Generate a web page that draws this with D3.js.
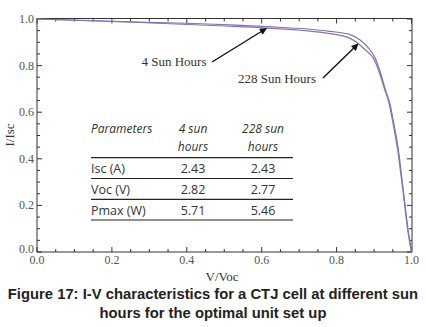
<!DOCTYPE html>
<html><head><meta charset="utf-8">
<script src="https://cdn.jsdelivr.net/npm/d3@7"></script>
<style>body{margin:0;background:#fff}svg{display:block}</style>
</head><body>
<svg id="c" width="426" height="327"></svg>
<script>
// Data
const v4 = [0, 0.275, 0.5, 0.603, 0.782, 0.836, 0.862, 0.885, 0.903, 0.916, 0.929, 0.943, 0.950, 0.965, 0.978, 0.991, 1.0];
const i4 = [1.0, 0.987, 0.976, 0.968, 0.947, 0.933, 0.911, 0.876, 0.833, 0.776, 0.704, 0.632, 0.575, 0.438, 0.266, 0.094, 0];
const v228 = [0, 0.275, 0.5, 0.603, 0.782, 0.836, 0.857, 0.876, 0.899, 0.913, 0.927, 0.941, 0.948, 0.963, 0.977, 0.990, 1.0];
const i228 = [1.0, 0.985, 0.970, 0.962, 0.937, 0.917, 0.896, 0.868, 0.83, 0.776, 0.704, 0.632, 0.575, 0.438, 0.266, 0.094, 0];
const xTicks = [0, 0.2, 0.4, 0.6, 0.8, 1.0];
const yTicks = [0, 0.2, 0.4, 0.6, 0.8, 1.0];
const tableHeader = ["Parameters", "4 sun|hours", "228 sun|hours"];
const tableRows = ["Isc (A)", "Voc (V)", "Pmax (W)"];
const col4 = ["2.43", "2.82", "5.71"];
const col228 = ["2.43", "2.77", "5.46"];
const seriesNames = ["4 Sun Hours", "228 Sun Hours"];

const svg = d3.select("#c");
const x = d3.scaleLinear().domain([0, 1]).range([37, 411.5]);
const y = d3.scaleLinear().domain([0, 1]).range([252, 19]);
const L = 37, R = 412, T = 18.5, B = 252;

// frame
svg.append("rect").attr("x", L).attr("y", T).attr("width", R - L).attr("height", B - T)
  .attr("fill", "none").attr("stroke", "#333").attr("stroke-width", 1);

const minor = d3.range(0, 1.0001, 0.05);
const isMajor = d => Math.abs(Math.round(d * 5) - d * 5) < 1e-6;
const tg = svg.append("g").attr("stroke", "#333").attr("stroke-width", 1);
minor.forEach(d => {
  const len = isMajor(d) ? 5 : 3;
  const px = x(d), py = y(d);
  tg.append("line").attr("x1", px).attr("x2", px).attr("y1", B).attr("y2", B - len);
  tg.append("line").attr("x1", px).attr("x2", px).attr("y1", T).attr("y2", T + len);
  tg.append("line").attr("y1", py).attr("y2", py).attr("x1", L).attr("x2", L + len);
  tg.append("line").attr("y1", py).attr("y2", py).attr("x1", R).attr("x2", R - len);
});

// tick labels
const fmt = d3.format(".1f");
svg.append("g").selectAll("text").data(xTicks).join("text")
  .attr("x", d => x(d)).attr("y", 263.5).attr("text-anchor", "middle")
  .attr("font-family", "Liberation Serif").attr("font-size", 12).attr("fill", "#555")
  .text(d => fmt(d));
svg.append("g").selectAll("text").data(yTicks).join("text")
  .attr("x", 34).attr("y", d => y(d) + (d === 0 ? 0.5 : 4)).attr("text-anchor", "end")
  .attr("font-family", "Liberation Serif").attr("font-size", 12).attr("fill", "#555")
  .text(d => fmt(d));

// axis titles
svg.append("text").attr("transform", "translate(14,135) rotate(-90)").attr("text-anchor", "middle")
  .attr("font-family", "Liberation Serif").attr("font-size", 13).attr("fill", "#333").text("I/Isc");
svg.append("text").attr("x", 222).attr("y", 281).attr("text-anchor", "middle")
  .attr("font-family", "Liberation Serif").attr("font-size", 13).attr("fill", "#333").text("V/Voc");

// curves
const line = d3.line().x(d => x(d[0])).y(d => y(d[1])).curve(d3.curveMonotoneX);
svg.append("path").datum(v228.map((v, k) => [v, i228[k]])).attr("d", line)
  .attr("fill", "none").attr("stroke", "#9a6d9e").attr("stroke-width", 1.2);
svg.append("path").datum(v4.map((v, k) => [v, i4[k]])).attr("d", line)
  .attr("fill", "none").attr("stroke", "#7878b6").attr("stroke-width", 1.2);

// annotations
const defs = svg.append("defs");
defs.append("marker").attr("id", "ah").attr("viewBox", "0 0 10 10").attr("refX", 9).attr("refY", 5)
  .attr("markerWidth", 9).attr("markerHeight", 7).attr("orient", "auto").attr("markerUnits", "userSpaceOnUse")
  .append("path").attr("d", "M0,0 L10,5 L0,10 Z").attr("fill", "#111");
svg.append("text").attr("x", 174).attr("y", 66).attr("text-anchor", "middle")
  .attr("font-family", "Liberation Serif").attr("font-size", 13).attr("fill", "#333").text(seriesNames[0]);
svg.append("line").attr("x1", 212).attr("y1", 62).attr("x2", x(0.612)).attr("y2", 28.5)
  .attr("stroke", "#111").attr("stroke-width", 1.4).attr("marker-end", "url(#ah)");
svg.append("text").attr("x", 277).attr("y", 83).attr("text-anchor", "middle")
  .attr("font-family", "Liberation Serif").attr("font-size", 13).attr("fill", "#333").text(seriesNames[1]);
svg.append("line").attr("x1", 323).attr("y1", 78).attr("x2", x(0.857)).attr("y2", 44)
  .attr("stroke", "#111").attr("stroke-width", 1.4).attr("marker-end", "url(#ah)");

// table
const tf = "Open Sans";
const tcol = "#333";
const cx = [91, 193, 263];
const hdr = svg.append("g").attr("font-family", tf).attr("font-size", 12).attr("font-style", "italic").attr("fill", tcol);
hdr.append("text").attr("x", cx[0]).attr("y", 133).text(tableHeader[0]);
[1, 2].forEach(c => {
  const parts = tableHeader[c].split("|");
  hdr.append("text").attr("x", cx[c]).attr("y", 133).attr("text-anchor", "middle").text(parts[0]);
  hdr.append("text").attr("x", cx[c]).attr("y", 151).attr("text-anchor", "middle").text(parts[1]);
});
const rowY = [172.5, 193.5, 214.5];
const lineY = [157.7, 178.5, 199.3, 220];
lineY.forEach(ly => svg.append("line").attr("x1", 91).attr("x2", 293).attr("y1", ly).attr("y2", ly)
  .attr("stroke", "#222").attr("stroke-width", 1.2));
const body = svg.append("g").attr("font-family", tf).attr("font-size", 12.5).attr("fill", tcol);
tableRows.forEach((r, k) => {
  body.append("text").attr("x", cx[0]).attr("y", rowY[k]).text(r);
  body.append("text").attr("x", cx[1]).attr("y", rowY[k]).attr("text-anchor", "middle").text(col4[k]);
  body.append("text").attr("x", cx[2]).attr("y", rowY[k]).attr("text-anchor", "middle").text(col228[k]);
});

// caption
const cap = svg.append("g").attr("font-family", "Liberation Sans").attr("font-weight", "bold")
  .attr("font-size", 14.8).attr("fill", "#222").attr("text-anchor", "middle");
cap.append("text").attr("x", 213).attr("y", 299).text("Figure 17: I-V characteristics for a CTJ cell at different sun");
cap.append("text").attr("x", 213).attr("y", 318).text("hours for the optimal unit set up");
</script>
</body></html>
